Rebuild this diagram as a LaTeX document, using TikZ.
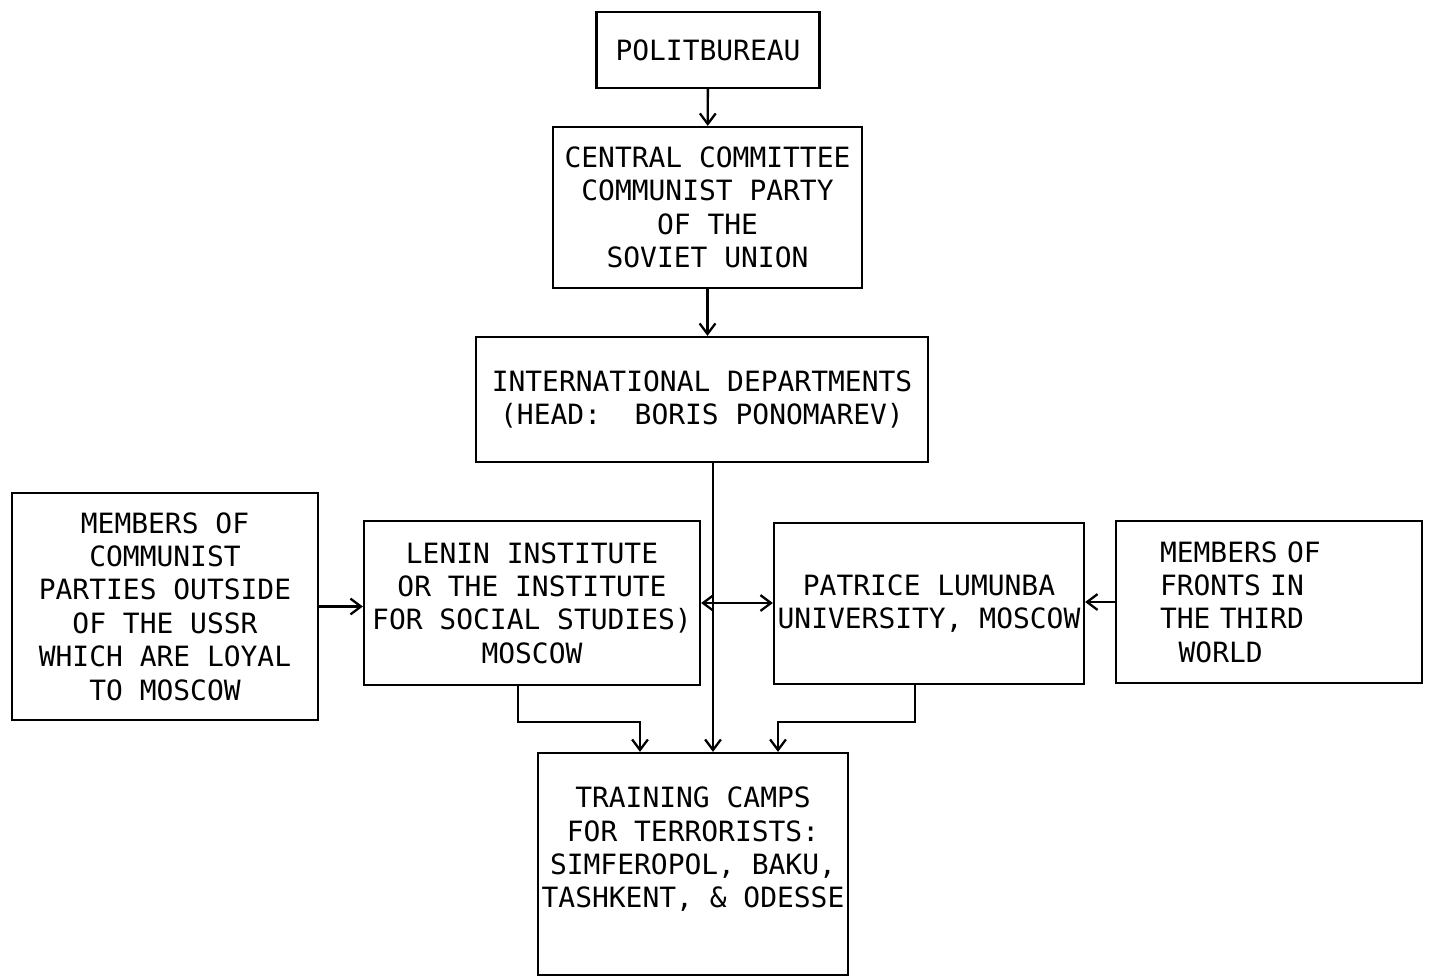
\documentclass[tikz,border=0pt]{standalone}
\usepackage{fontspec}
\usepackage{tikz}
\usetikzlibrary{arrows.meta}
\newfontfamily\boxfont{DejaVu Sans Mono}[WordSpace={1,0,0}]

\begin{document}
\begin{tikzpicture}[x=0.02cm, y=-0.02cm,
      box/.style={draw, line width=1.3pt, align=center, inner sep=0pt,
        font=\boxfont\fontsize{15.9pt}{19pt}\selectfont},
      arr/.style={line width=1.3pt, -{Straight Barb[length=6pt,width=9pt,line width=1.3pt]}},
      both/.style={arr, {Straight Barb[length=6pt,width=9pt,line width=1.3pt]}-{Straight Barb[length=6pt,width=9pt,line width=1.3pt]}}]
      \useasboundingbox (0,0) rectangle (1430,978);
      \node[box, minimum width=4.46cm, minimum height=1.52cm] (polit) at (708,50) {POLITBUREAU};
      \node[box, minimum width=6.18cm, minimum height=3.22cm] (cc) at (707.5,207.5)
        {CENTRAL COMMITTEE\\COMMUNIST PARTY\\OF THE\\SOVIET UNION};
      \node[box, minimum width=9.04cm, minimum height=2.5cm] (intl) at (702,399.5)
        {INTERNATIONAL DEPARTMENTS\\(HEAD:\ \ BORIS PONOMAREV)};
      \node[box, minimum width=6.12cm, minimum height=4.54cm] (mcp) at (165,606.5)
        {MEMBERS OF\\COMMUNIST\\PARTIES OUTSIDE\\OF THE USSR\\WHICH ARE LOYAL\\TO MOSCOW};
      \node[box, minimum width=6.72cm, minimum height=3.28cm] (lenin) at (532,603)
        {LENIN INSTITUTE\\OR THE INSTITUTE\\FOR SOCIAL STUDIES)\\MOSCOW};
      \node[box, minimum width=6.2cm, minimum height=3.22cm] (lumumba) at (929,603.5)
        {PATRICE LUMUNBA\\UNIVERSITY, MOSCOW};
      \node[box, align=left, text width=4.36cm, inner xsep=0.88cm, minimum height=3.24cm] (fronts) at (1269,602)
        {MEMBERS OF\\FRONTS IN\\THE THIRD\\\ \ WORLD};
      \node[box, minimum width=6.2cm, minimum height=4.44cm] (camps) at (693,864)
        {TRAINING CAMPS\\FOR TERRORISTS:\\SIMFEROPOL, BAKU,\\TASHKENT, \& ODESSE\\\mbox{}};
      % feed points into the camps
      \coordinate (trunk) at (713,0);
      \coordinate (lfeed) at (518,722);
      \coordinate (rfeed) at (915,722);
      \coordinate (lin) at (640,0);
      \coordinate (rin) at (778,0);
      \draw[arr] (polit) -- (cc);
      \draw[arr] (cc.south) -- (cc.south |- intl.north);
      \draw[arr] (intl.south -| trunk) -- (trunk |- camps.north);
      \draw[arr] (mcp.east) -- (mcp.east -| lenin.west);
      \draw[both] (lenin.east) -- (lenin.east -| lumumba.west);
      \draw[arr] (fronts.west) -- (fronts.west -| lumumba.east);
      \draw[arr] (lenin.south -| lfeed) -- (lfeed) -| (lin |- camps.north);
      \draw[arr] (lumumba.south -| rfeed) -- (rfeed) -| (rin |- camps.north);
    \end{tikzpicture}
\end{document}
